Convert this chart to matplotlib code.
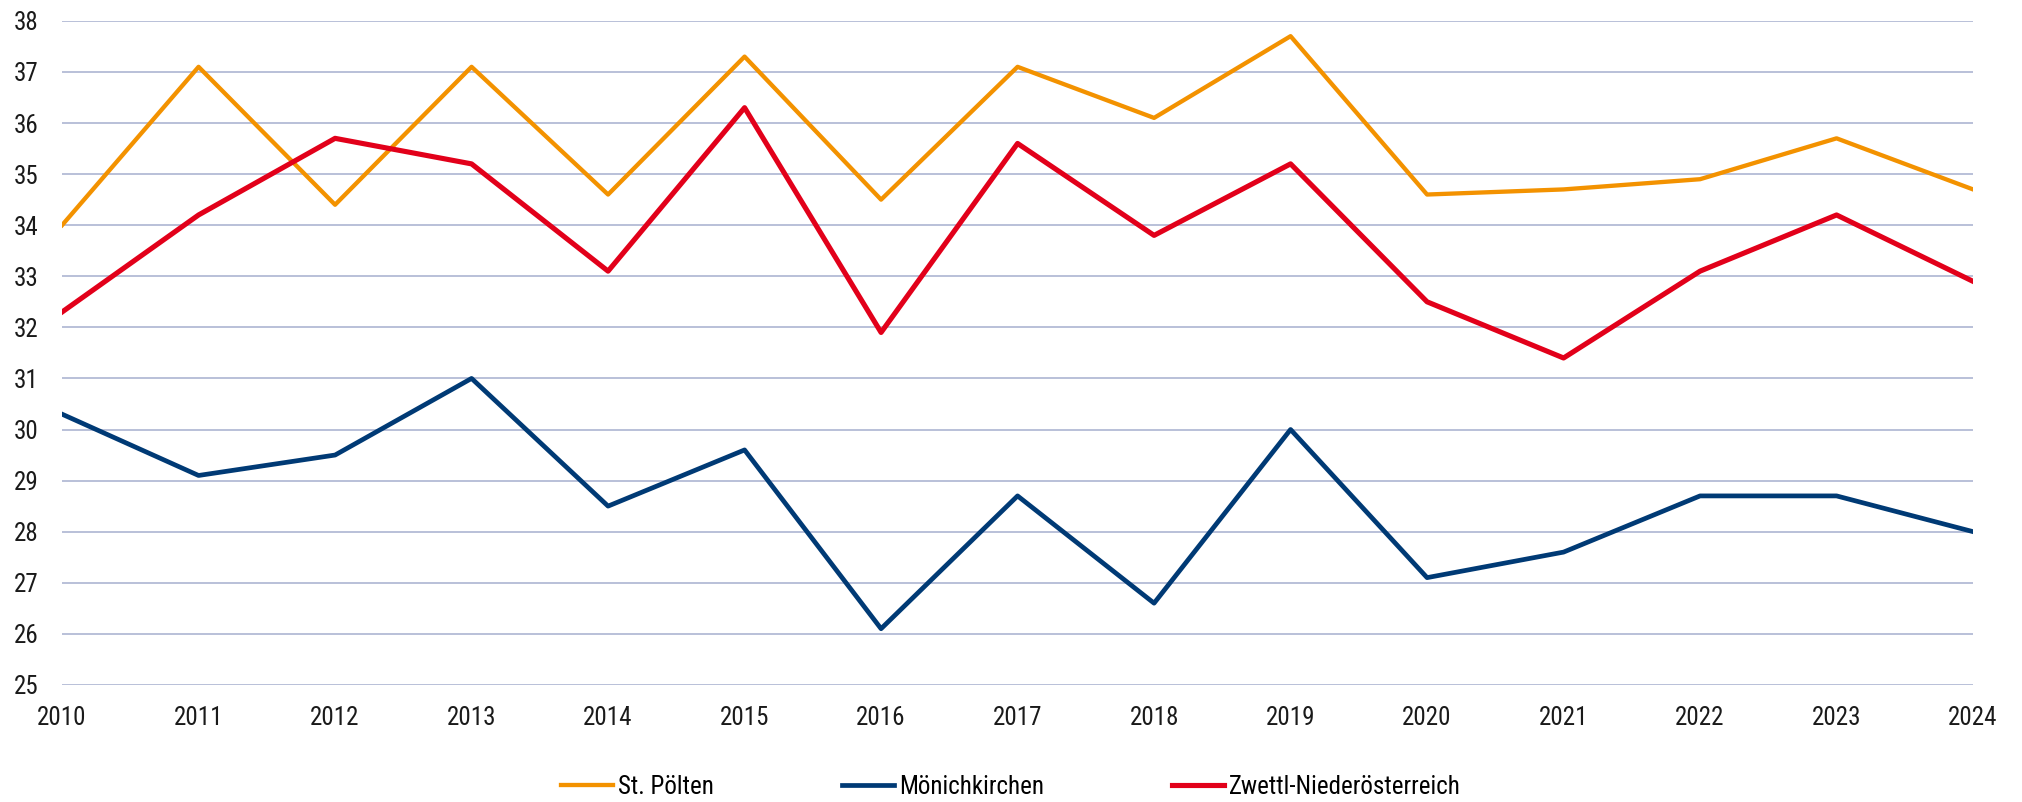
import matplotlib.pyplot as plt
from matplotlib import font_manager

# Daten
jahre = list(range(2010, 2025))
st_poelten = [34.0, 37.1, 34.4, 37.1, 34.6, 37.3, 34.5, 37.1, 36.1, 37.7, 34.6, 34.7, 34.9, 35.7, 34.7]
moenichkirchen = [30.3, 29.1, 29.5, 31.0, 28.5, 29.6, 26.1, 28.7, 26.6, 30.0, 27.1, 27.6, 28.7, 28.7, 28.0]
zwettl = [32.3, 34.2, 35.7, 35.2, 33.1, 36.3, 31.9, 35.6, 33.8, 35.2, 32.5, 31.4, 33.1, 34.2, 32.9]
y_ticks = list(range(25, 39))

# Schrift: schmale Schrift, falls vorhanden
namen = {f.name for f in font_manager.fontManager.ttflist}
schrift = "Liberation Sans"
for kandidat in ["Liberation Sans Narrow", "Arial Narrow", "Roboto Condensed", "Open Sans Condensed"]:
    if kandidat in namen:
        schrift = kandidat
        break
plt.rcParams["font.family"] = [schrift, "DejaVu Sans"]
groesse = 18 if "Narrow" in schrift or "Condensed" in schrift else 17

fig, ax = plt.subplots(figsize=(20.22, 8.02), dpi=100)
fig.subplots_adjust(left=0.0307, right=0.9758, top=0.974, bottom=0.146)

ax.plot(jahre, st_poelten, color="#F39200", lw=3.1, label="St. Pölten")
ax.plot(jahre, moenichkirchen, color="#003A75", lw=3.4, label="Mönichkirchen")
ax.plot(jahre, zwettl, color="#E2001A", lw=3.7, label="Zwettl-Niederösterreich")

ax.set_xlim(2010, 2024)
ax.set_ylim(25, 38)
ax.set_yticks(y_ticks)
ax.set_xticks(jahre)
ax.grid(axis="y", color="#B3BBD6", lw=1.3)
ax.set_axisbelow(True)
for s in ax.spines.values():
    s.set_visible(False)
ax.tick_params(axis="both", length=0, labelsize=groesse, colors="#1a1a1a")
ax.tick_params(axis="y", pad=17)
ax.tick_params(axis="x", pad=15)

fig.legend(loc="center", bbox_to_anchor=(0.5, 0.019), ncol=3, frameon=False,
           fontsize=groesse, handlelength=2.1, handletextpad=0.2, columnspacing=5.1)

plt.savefig("out.png", dpi=100)
